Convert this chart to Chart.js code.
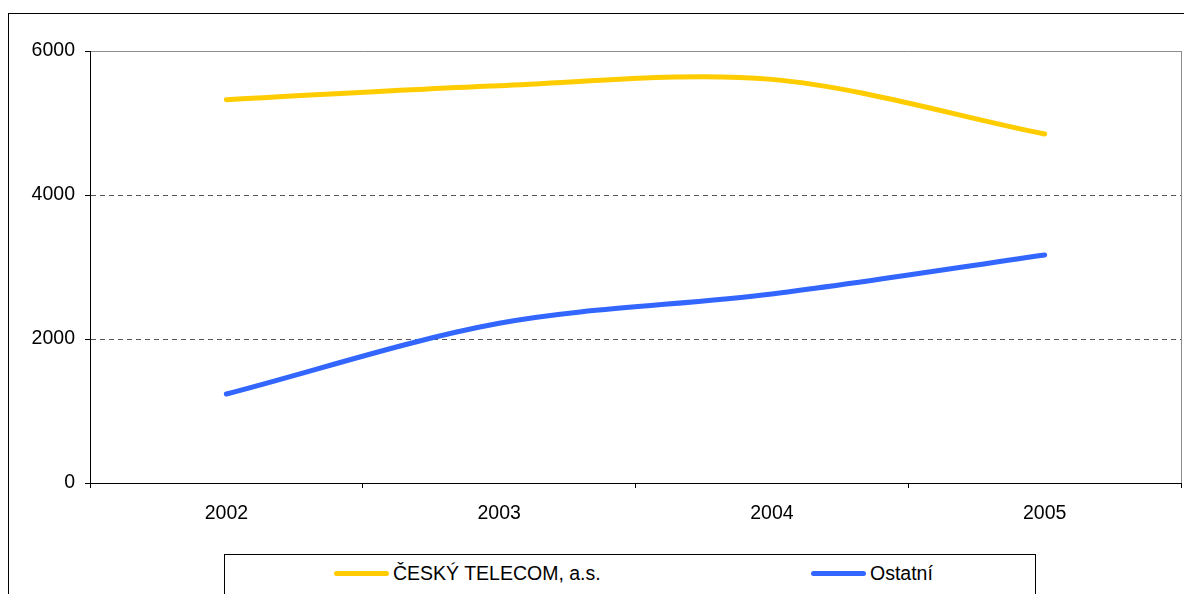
<!DOCTYPE html>
<html>
<head>
<meta charset="utf-8">
<script src="https://cdn.jsdelivr.net/npm/chart.js@4/dist/chart.umd.min.js"></script>
<style>
    html, body { margin: 0; padding: 0; background: #fff; }
    body { width: 1184px; height: 594px; position: relative; overflow: hidden; font-family: "Liberation Sans", Arial, sans-serif; }
    #frame { position: absolute; left: 8px; top: 13px; width: 1300px; height: 700px; border-left: 1px solid #000; border-top: 1px solid #000; }
    #wrap { position: absolute; left: 0; top: 0; width: 1184px; height: 594px; }
    #legend { position: absolute; left: 224px; top: 554px; width: 810px; height: 60px; border: 1px solid #000; background: #fff; }
    .item { position: absolute; top: 6px; height: 24px; display: flex; align-items: center; font-size: 19.5px; color: #000; white-space: nowrap; }
    .swatch { width: 55px; height: 5px; border-radius: 3px; margin-right: 4px; }
</style>
</head>
<body>
<div id="frame"></div>
<div id="wrap"><canvas id="chart" width="1184" height="594"></canvas></div>
<div id="legend"></div>
<script>
// data
const years = ['2002', '2003', '2004', '2005'];
const telecom = [5324, 5518, 5606, 4847];
const ostatni = [1236, 2218, 2625, 3167];
const seriesNames = ['ČESKÝ TELECOM, a.s.', 'Ostatní'];
const seriesColors = ['#FFCC00', '#3366FF'];

const ctx = document.getElementById('chart');

new Chart(ctx, {
    type: 'line',
    data: {
        labels: years,
        datasets: [
            { label: seriesNames[0], data: telecom, borderColor: seriesColors[0] },
            { label: seriesNames[1], data: ostatni, borderColor: seriesColors[1] }
        ]
    },
    options: {
        responsive: false,
        animation: false,
        layout: { padding: { top: 51, right: 3, left: 0, bottom: 0 } },
        elements: {
            line: { borderWidth: 5, tension: 0.32, borderCapStyle: 'round', borderJoinStyle: 'round', fill: false },
            point: { radius: 0, hoverRadius: 0 }
        },
        plugins: {
            legend: { display: false },
            tooltip: { enabled: false }
        },
        scales: {
            x: {
                offset: true,
                afterFit: function(scale) { scale.height = 111; },
                grid: {
                    offset: true,
                    drawOnChartArea: true,
                    // only the last boundary line shows (right frame of the plot)
                    color: function(c) { return c.tick ? 'rgba(0,0,0,0)' : '#8c8c8c'; },
                    tickColor: '#000',
                    tickLength: 5
                },
                border: { display: true, color: '#000', width: 1 },
                ticks: { color: '#000', padding: 14, font: { family: 'Liberation Sans', size: 19.5 } }
            },
            y: {
                min: 0,
                max: 6000,
                afterFit: function(scale) { scale.width = 90; },
                grid: {
                    color: function(c) {
                        if (!c.tick) return 'rgba(0,0,0,0)';
                        if (c.tick.value === 0) return 'rgba(0,0,0,0)';
                        if (c.tick.value === 6000) return '#8c8c8c';
                        return '#555';
                    },
                    tickColor: '#000',
                    tickLength: 5
                },
                border: {
                    display: true,
                    color: '#000',
                    width: 1,
                    dash: function(c) { return (c.tick && c.tick.value === 6000) ? [] : [5, 4]; }
                },
                ticks: {
                    stepSize: 2000,
                    color: '#000',
                    padding: 10,
                    font: { family: 'Liberation Sans', size: 19.5 },
                    callback: function(v) { return String(v); }
                }
            }
        }
    }
});

// legend box drawn as html, like the excel one
const legend = document.getElementById('legend');
const itemLeft = [109, 586];
seriesNames.forEach(function(name, i) {
    const item = document.createElement('div');
    item.className = 'item';
    item.style.left = itemLeft[i] + 'px';
    const sw = document.createElement('div');
    sw.className = 'swatch';
    sw.style.background = seriesColors[i];
    item.appendChild(sw);
    item.appendChild(document.createTextNode(name));
    legend.appendChild(item);
});
</script>
</body>
</html>
